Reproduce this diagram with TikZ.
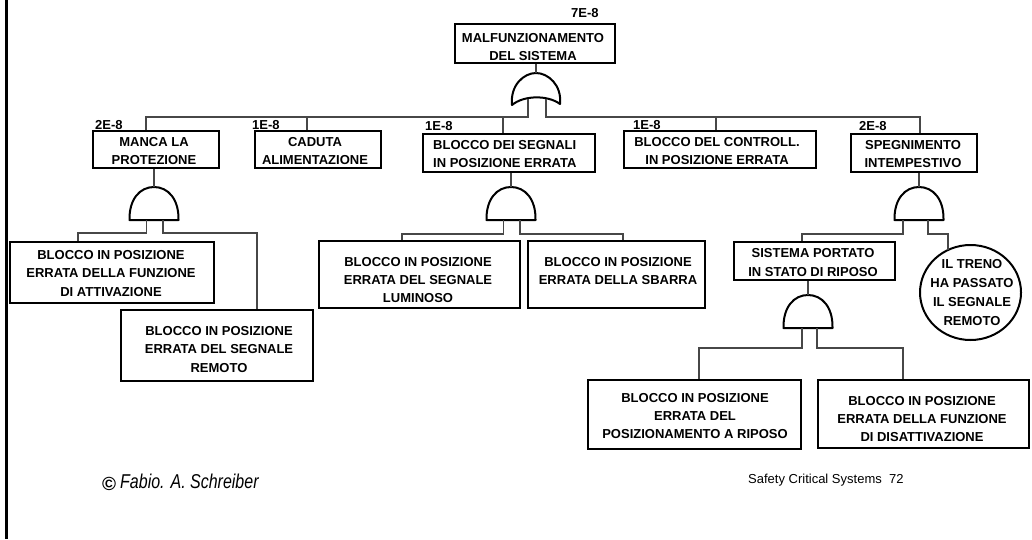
\documentclass[tikz,border=0pt]{standalone}
\usepackage{fontspec}
\setmainfont{Liberation Sans}
\usepackage{graphicx}
\usetikzlibrary{calc,fit}

\tikzset{
  x=1pt, y=-1pt,
  box/.style={draw, line width=2.4pt, inner sep=0pt},
  thinbox/.style={draw, line width=2pt, inner sep=0pt},
  txt/.style={font=\fontsize{13}{18.3}\selectfont\bfseries, align=center, inner sep=0pt},
  prob/.style={font=\fontsize{13}{15}\selectfont\bfseries, anchor=west, inner sep=0pt},
  wire/.style={draw=black!72, line width=1.1pt},
  gateline/.style={line width=2pt, line join=round},
  % AND gate: origin at the top of the dome, flat base 33 units below
  pics/andgate/.style={code={
    \draw[gateline] (-24.5,33) .. controls (-25,12) and (-14,0) .. (0,0)
                    .. controls (14,0) and (25,12) .. (24.5,33) -- cycle;
    \coordinate (-top) at (0,0);
    \coordinate (-l) at (#1,33);
    \coordinate (-r) at (9,33);
  }},
  pics/andgate/.default=-7.5,
  % OR gate: origin at the top, concave base
  pics/orgate/.style={code={
    \draw[gateline] (-24,32) .. controls (-26,12) and (-12,0) .. (0,0)
                    .. controls (12,0) and (26,12) .. (24,31)
                    .. controls (12,22) and (-12,22) .. (-24,32) -- cycle;
    \coordinate (-top) at (0,0);
    \coordinate (-l) at (-8,26);
    \coordinate (-r) at (10,26);
  }}
}

\begin{document}
\begin{tikzpicture}
\useasboundingbox[fill=white] (0,0) rectangle (1032,539);

% left page rule
\draw[line width=2.6pt] (6.5,0) -- (6.5,539);

% ---- top event
\node[thinbox, fit={(455,24) (615,63)}] (top) {};
\node[txt] (topt) at (533,47) {MALFUNZIONAMENTO\\DEL SISTEMA};
\node[prob] (ptop) at (571,13) {7E-8};
\pic (g0) at (536,73) {orgate};

% ---- first level events
\node[box, fit={(93,131) (219,168)}] (manca) {};
\node[txt] (mancat) at (154,151) {MANCA LA\\PROTEZIONE};
\node[prob] (pmanca) at (95,125) {2E-8};

\node[box, fit={(255,131) (381,168)}] (caduta) {};
\node[txt] (cadutat) at (315,151) {CADUTA\\ALIMENTAZIONE};
\node[prob] (pcaduta) at (252,125) {1E-8};

\node[box, fit={(423,134) (595,172)}] (segn) {};
\node[txt, align=left, anchor=west] (segnt) at (433,154) {BLOCCO DEI SEGNALI\\IN POSIZIONE ERRATA};
\node[prob] (psegn) at (425,126) {1E-8};

\node[box, fit={(624,131) (816,168)}] (contr) {};
\node[txt] (contrt) at (717,151) {BLOCCO DEL CONTROLL.\\IN POSIZIONE ERRATA};
\node[prob] (pcontr) at (633,125) {1E-8};

\node[box, fit={(851,134) (977,172)}] (speg) {};
\node[txt] (spegt) at (913,154) {SPEGNIMENTO\\INTEMPESTIVO};
\node[prob] (pspeg) at (859,126) {2E-8};

% ---- gates under the first level
\pic (g1) at (154,187) {andgate};
\pic (g2) at (511,187) {andgate};
\pic (g3) at (919,187) {andgate=-16};

% ---- second level events
\node[box, fit={(10,242) (214,303)}] (attiv) {};
\node[txt] (attivt) at (111,273.5) {BLOCCO IN POSIZIONE\\ERRATA DELLA FUNZIONE\\DI ATTIVAZIONE};

\node[box, fit={(121,310) (313,381)}] (remoto) {};
\node[txt] (remotot) at (219,349.5) {BLOCCO IN POSIZIONE\\ERRATA DEL SEGNALE\\REMOTO};

\node[box, fit={(319,241) (520,308)}] (lumin) {};
\node[txt] (lumint) at (418,280) {BLOCCO IN POSIZIONE\\ERRATA DEL SEGNALE\\LUMINOSO};

\node[box, fit={(528,241) (705,308)}] (sbarra) {};
\node[txt] (sbarrat) at (618,271) {BLOCCO IN POSIZIONE\\ERRATA DELLA SBARRA};

\node[thinbox, fit={(734,242) (895,280)}] (sist) {};
\node[txt] (sistt) at (813,262.5) {SISTEMA PORTATO\\IN STATO DI RIPOSO};

\draw[line width=2pt] (970.5,292.5) ellipse [x radius=50.5, y radius=47.5];
\coordinate (treno) at (970.5,292.5);
\node[txt, font=\fontsize{13}{19.2}\selectfont\bfseries] (trenot) at (972,292.5) {IL TRENO\\HA PASSATO\\IL SEGNALE\\REMOTO};

\pic (g4) at (808,295) {andgate=-6};

% ---- third level events
\node[thinbox, fit={(588,380) (801,449)}] (riposo) {};
\node[txt] (ripost) at (695,416) {BLOCCO IN POSIZIONE\\ERRATA DEL\\POSIZIONAMENTO A RIPOSO};

\node[thinbox, fit={(818,380) (1029,448)}] (disatt) {};
\node[txt] (disattt) at (922,419) {BLOCCO IN POSIZIONE\\ERRATA DELLA FUNZIONE\\DI DISATTIVAZIONE};

% ---- connectors
\draw[wire] (g0-top |- top.south) -- (g0-top);
\coordinate (busL) at (146,117);
\coordinate (busR) at (920,117);
\draw[wire] (g0-l) |- (busL) -- (busL |- manca.north);
\draw[wire] (307,117) -- (307,117 |- caduta.north);
\draw[wire] (503,117) -- (503,117 |- segn.north);
\draw[wire] (g0-r) |- (busR) -- (busR |- speg.north);
\draw[wire] (716,117) -- (716,117 |- contr.north);

\draw[wire] (g1-top |- manca.south) -- (g1-top);
\draw[wire] (g1-l) -- ++(0,13) -| (78,0 |- attiv.north);
\draw[wire] (g1-r) -- ++(0,13) -| (257,0 |- remoto.north);

\draw[wire] (g2-top |- segn.south) -- (g2-top);
\draw[wire] (g2-l) -- ++(0,14) -| (402,0 |- lumin.north);
\draw[wire] (g2-r) -- ++(0,14) -| (623,0 |- sbarra.north);

\draw[wire] (g3-top |- speg.south) -- (g3-top);
\draw[wire] (g3-l) -- ++(0,14) -| (802,0 |- sist.north);
\draw[wire] (g3-r) -- ++(0,14) -| (948,250);

\draw[wire] (g4-top |- sist.south) -- (g4-top);
\draw[wire] (g4-l) -- ++(0,20) -| (699,0 |- riposo.north);
\draw[wire] (g4-r) -- ++(0,20) -| (903,0 |- disatt.north);

% ---- footer
\node[anchor=west, inner sep=0pt] (copy) at (102,484) {\fontsize{19}{19}\selectfont\bfseries ©};
\node[anchor=west, inner sep=0pt] (author) at (120,481) {\scalebox{0.8}[1]{\fontsize{20}{20}\selectfont\itshape Fabio. A. Schreiber}};
\node[anchor=west, inner sep=0pt] (course) at (748,480) {\fontsize{13}{15}\selectfont Safety Critical Systems\ \ 72};
\end{tikzpicture}
\end{document}
